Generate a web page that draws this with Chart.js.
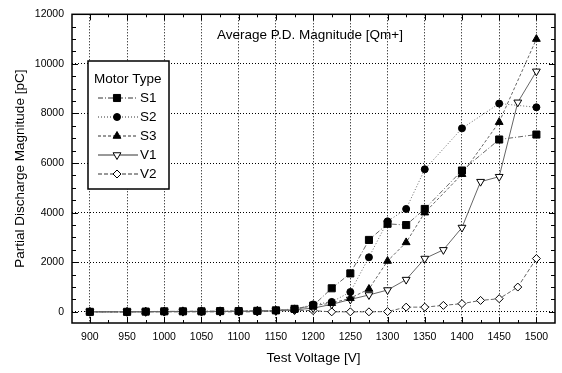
<!DOCTYPE html>
<html>
<head>
<meta charset="utf-8">
<script src="https://cdn.jsdelivr.net/npm/chart.js@4.4.0/dist/chart.umd.min.js"></script>
<style>
    html, body { margin: 0; padding: 0; background: #fff; }
    #wrap { width: 562px; height: 373px; }
</style>
</head>
<body>
<div id="wrap"><canvas id="PdChart" width="562" height="373"></canvas></div>
<script>
// test voltages [V]: S motors measured every 25 V up to 1350, then every 50 V
const voltsS = [900, 950, 975, 1000, 1025, 1050, 1075, 1100, 1125, 1150, 1175, 1200, 1225, 1250, 1275, 1300, 1325, 1350, 1400, 1450, 1500];
const voltsV = [900, 950, 975, 1000, 1025, 1050, 1075, 1100, 1125, 1150, 1175, 1200, 1225, 1250, 1275, 1300, 1325, 1350, 1375, 1400, 1425, 1450, 1475, 1500];

// average PD magnitude [pC]
const s1 = [0, 0, 10, 20, 20, 20, 30, 30, 40, 60, 120, 250, 950, 1550, 2900, 3550, 3500, 4150, 5700, 6950, 7150];
const s2 = [0, 0, 10, 10, 20, 20, 20, 30, 40, 50, 100, 300, 400, 800, 2200, 3650, 4150, 5750, 7400, 8400, 8250];
const s3 = [0, 0, 10, 10, 20, 20, 20, 30, 40, 50, 100, 250, 350, 550, 920, 2050, 2800, 4000, 5550, 7650, 11000];
const v1 = [0, 0, 0, 10, 10, 10, 10, 20, 20, 40, 80, 150, 300, 500, 680, 880, 1300, 2150, 2500, 3400, 5250, 5450, 8450, 9700];
const v2 = [0, 0, 0, 0, 0, 0, 0, 0, 0, 30, 60, 50, 0, 0, 0, 10, 190, 190, 260, 330, 460, 530, 1000, 2150];

const seriesNames = ['S1', 'S2', 'S3', 'V1', 'V2'];
const legendTitle = 'Motor Type';
const chartTitle = 'Average P.D. Magnitude [Qm+]';
const xTitle = 'Test Voltage [V]';
const yTitle = 'Partial Discharge Magnitude [pC]';

// tick labels
const xTickValues = [900, 950, 1000, 1050, 1100, 1150, 1200, 1250, 1300, 1350, 1400, 1450, 1500];
const yTickValues = [0, 2000, 4000, 6000, 8000, 10000, 12000];

const xMin = 876, xMax = 1525, xMinor = 25;
const yMin = -450, yMax = 12000, yMinor = 500;

const FONT = "'Liberation Sans', Arial, sans-serif";
Chart.defaults.font.family = FONT;
Chart.defaults.color = '#000';

function pts(xs, ys) {
    return xs.map((v, i) => ({ x: v, y: ys[i] }));
}

function series(label, xs, ys, style, rot, radius, filled, dash) {
    return {
        label: label,
        data: pts(xs, ys),
        borderColor: '#666',
        borderWidth: 1,
        borderDash: dash,
        pointStyle: style,
        rotation: rot,
        pointRadius: radius,
        pointBackgroundColor: filled ? '#000' : '#fff',
        pointBorderColor: '#000',
        pointBorderWidth: 1,
        tension: 0
    };
}

// frame with inward ticks, title and boxed legend
const framePlugin = {
    id: 'frame',
    afterDatasetsDraw(chart) {
        const ctx = chart.ctx;
        const a = chart.chartArea;
        const x = chart.scales.x, y = chart.scales.y;
        ctx.save();
        ctx.strokeStyle = '#000';
        ctx.lineWidth = 1;
        ctx.beginPath();
        for (let v = 900; v <= 1500; v += xMinor) {
            const px = Math.round(x.getPixelForValue(v)) + 0.5;
            const len = xTickValues.includes(v) ? 6 : 3;
            ctx.moveTo(px, a.bottom); ctx.lineTo(px, a.bottom - len);
            ctx.moveTo(px, a.top); ctx.lineTo(px, a.top + len);
        }
        for (let v = 0; v <= yMax; v += yMinor) {
            const py = Math.round(y.getPixelForValue(v)) + 0.5;
            const len = yTickValues.includes(v) ? 6 : 4;
            ctx.moveTo(a.left, py); ctx.lineTo(a.left + len, py);
            ctx.moveTo(a.right, py); ctx.lineTo(a.right - len, py);
        }
        ctx.stroke();
        ctx.lineWidth = 1.5;
        ctx.strokeRect(a.left, a.top, a.right - a.left, a.bottom - a.top);

        ctx.fillStyle = '#000';
        ctx.font = '13.5px ' + FONT;
        ctx.textBaseline = 'middle';
        ctx.textAlign = 'left';
        ctx.fillText(chartTitle, 217, 35);

        // legend box
        const bx = 88, by = 61, bw = 81, bh = 128;
        ctx.fillStyle = '#fff';
        ctx.fillRect(bx, by, bw, bh);
        ctx.lineWidth = 1.5;
        ctx.strokeRect(bx, by, bw, bh);
        ctx.fillStyle = '#000';
        ctx.fillText(legendTitle, bx + 6, by + 18);
        chart.data.datasets.forEach((ds, i) => {
            const ly = by + 37 + i * 19;
            ctx.strokeStyle = '#333';
            ctx.lineWidth = 1;
            ctx.setLineDash(ds.borderDash || []);
            ctx.beginPath();
            ctx.moveTo(bx + 10, ly);
            ctx.lineTo(bx + 50, ly);
            ctx.stroke();
            ctx.setLineDash([]);
            ctx.fillStyle = ds.pointBackgroundColor;
            ctx.strokeStyle = '#000';
            Chart.helpers.drawPoint(ctx, {
                pointStyle: ds.pointStyle,
                rotation: ds.rotation,
                radius: ds.pointRadius,
                borderWidth: 1
            }, bx + 29, ly);
            ctx.fillStyle = '#000';
            ctx.fillText(ds.label, bx + 52, ly);
        });
        ctx.restore();
    }
};

new Chart(document.getElementById('PdChart'), {
    type: 'line',
    data: {
        datasets: [
            series(seriesNames[0], voltsS, s1, 'rect', 0, 5, true, [5, 2, 1, 2]),
            series(seriesNames[1], voltsS, s2, 'circle', 0, 3.5, true, [1, 2]),
            series(seriesNames[2], voltsS, s3, 'triangle', 0, 4.5, true, [3, 2]),
            series(seriesNames[3], voltsV, v1, 'triangle', 180, 4.5, false, []),
            series(seriesNames[4], voltsV, v2, 'rectRot', 0, 4, false, [4, 2])
        ]
    },
    options: {
        responsive: false,
        animation: false,
        devicePixelRatio: 1,
        layout: { padding: { top: 9, right: 7, left: 0, bottom: 0 } },
        plugins: {
            legend: { display: false },
            tooltip: { enabled: false }
        },
        scales: {
            x: {
                type: 'linear',
                min: xMin,
                max: xMax,
                afterFit: (scale) => { scale.height = 50; },
                afterBuildTicks: (scale) => { scale.ticks = xTickValues.map(v => ({ value: v })); },
                ticks: {
                    padding: 8,
                    maxRotation: 0,
                    autoSkip: false,
                    font: { size: 10.5 },
                    callback: (v) => String(v)
                },
                grid: { color: '#000', lineWidth: 1, drawTicks: false },
                border: { display: false, dash: [1, 2] },
                title: { display: true, text: xTitle, font: { size: 13.5 }, padding: { top: 0, bottom: 7 } }
            },
            y: {
                min: yMin,
                max: yMax,
                afterFit: (scale) => { scale.width = 72; },
                afterBuildTicks: (scale) => { scale.ticks = yTickValues.map(v => ({ value: v })); },
                ticks: {
                    padding: 8,
                    font: { size: 10.5 },
                    callback: (v) => String(v)
                },
                grid: { color: '#000', lineWidth: 1, drawTicks: false },
                border: { display: false, dash: [1, 2] },
                title: { display: true, text: yTitle, font: { size: 13.5 }, padding: { top: 12, bottom: 0 } }
            }
        }
    },
    plugins: [framePlugin]
});
</script>
</body>
</html>
